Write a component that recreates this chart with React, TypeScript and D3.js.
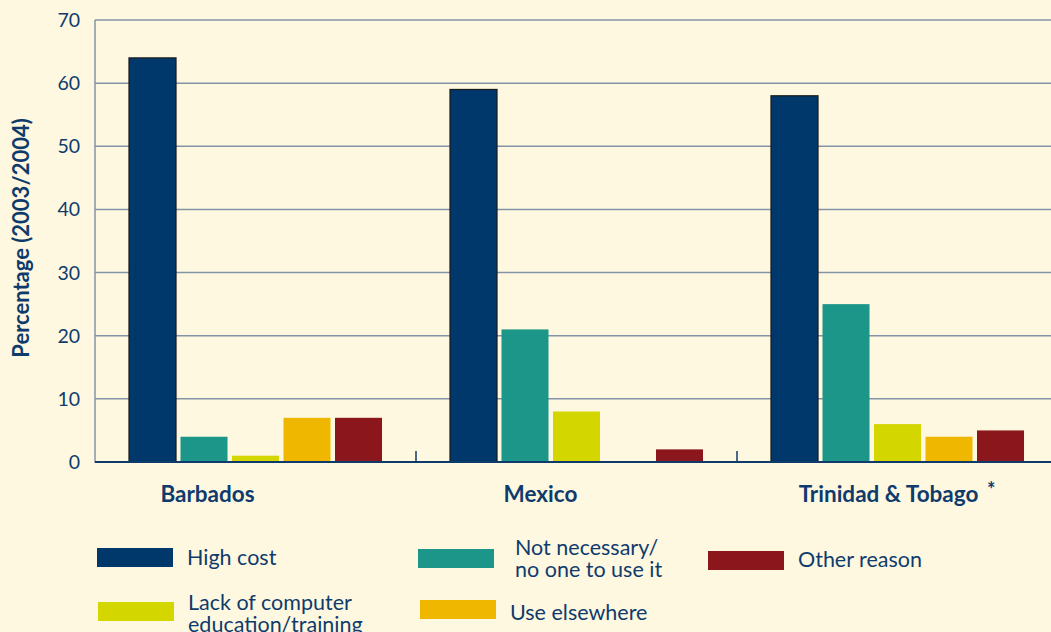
import React from "react";
import * as d3 from "d3";

const categories = ["Barbados", "Mexico", "Trinidad & Tobago"];
const seriesNames = [
  "High cost",
  "Not necessary/ no one to use it",
  "Lack of computer education/training",
  "Use elsewhere",
  "Other reason",
];
const highCost = [64, 59, 58];
const notNecessary = [4, 21, 25];
const lackEducation = [1, 8, 6];
const useElsewhere = [7, 0, 4];
const otherReason = [7, 2, 5];
const yTicks = [0, 10, 20, 30, 40, 50, 60, 70];

const seriesValues = [highCost, notNecessary, lackEducation, useElsewhere, otherReason];
const colors = ["#00386c", "#1b9688", "#d4d600", "#f0b700", "#8b161c"];

const W = 1051;
const H = 632;
const BG = "#fef8e1";
const TEXT = "#0f3b6c";
const GRID = "#8394a8";
const FONT = "Lato, 'Liberation Sans', sans-serif";

export default function App() {
  const left = 95;
  const top = 20;
  const bottom = 462;
  const groupW = 321;

  const x0 = d3.scaleBand<string>().domain(categories).range([left, left + groupW * 3]).padding(0);
  const x1 = d3
    .scaleBand<number>()
    .domain(d3.range(seriesNames.length))
    .range([0, groupW])
    .paddingInner(0.087)
    .paddingOuter(0.66);
  const y = d3.scaleLinear().domain([0, 70]).range([bottom, top]);

  const labelDx = [-48, -36, -9];

  const legendItems = [
    { s: 0, x: 97, y: 548, tx: 90, ty: 17, lines: ["High cost"] },
    { s: 1, x: 418, y: 549, tx: 97, ty: 6, lines: ["Not necessary/", "no one to use it"] },
    { s: 4, x: 708, y: 551, tx: 90, ty: 16, lines: ["Other reason"] },
    { s: 2, x: 98, y: 602, tx: 90, ty: 8, lines: ["Lack of computer", "education/training"] },
    { s: 3, x: 420, y: 600, tx: 90, ty: 20, lines: ["Use elsewhere"] },
  ];

  return (
    <div style={{ position: "fixed", left: 0, top: 0, width: W, height: H, background: BG }}>
      <svg width={W} height={H} style={{ display: "block" }}>
        <rect x={0} y={0} width={W} height={H} fill={BG} />
        {yTicks.map((t) => (
          <line
            key={"g" + t}
            x1={left}
            x2={W}
            y1={y(t)}
            y2={y(t)}
            stroke={t === 0 ? TEXT : GRID}
            strokeWidth={t === 0 ? 2 : 1.5}
          />
        ))}
        {yTicks.map((t) => (
          <text
            key={"t" + t}
            x={80}
            y={y(t) + 7}
            textAnchor="end"
            fontFamily={FONT}
            fontSize={19.5}
            fill={TEXT}
          >
            {t}
          </text>
        ))}
        <line x1={left} x2={left} y1={top} y2={bottom + 1} stroke={GRID} strokeWidth={1.5} />
        <text
          transform={`translate(29,${(top + bottom) / 2 - 3}) rotate(-90)`}
          textAnchor="middle"
          fontFamily={FONT}
          fontWeight="bold"
          fontSize={22}
          fill={TEXT}
        >
          Percentage (2003/2004)
        </text>
        {categories.map((c, ci) => (
          <g key={c} transform={`translate(${x0(c)},0)`}>
            {seriesValues.map((vals, si) =>
              vals[ci] > 0 ? (
                <rect
                  key={si}
                  x={x1(si)}
                  y={y(vals[ci])}
                  width={x1.bandwidth()}
                  height={bottom - y(vals[ci])}
                  fill={colors[si]}
                  stroke={si === 0 ? "#1a1a1a" : "none"}
                  strokeWidth={si === 0 ? 1.2 : 0}
                />
              ) : null
            )}
          </g>
        ))}
        <line x1={left} x2={W} y1={bottom} y2={bottom} stroke={TEXT} strokeWidth={2} />
        {categories.map((c, ci) =>
          ci > 0 ? (
            <line
              key={"b" + c}
              x1={x0(c)}
              x2={x0(c)}
              y1={bottom - 11}
              y2={bottom}
              stroke={TEXT}
              strokeWidth={1.5}
            />
          ) : null
        )}
        {categories.map((c, ci) => (
          <text
            key={"c" + c}
            x={(x0(c) as number) + x0.bandwidth() / 2 + labelDx[ci]}
            y={502}
            textAnchor="middle"
            fontFamily={FONT}
            fontWeight="bold"
            fontSize={22.5}
            fill={TEXT}
          >
            {c}
          </text>
        ))}
        <text x={987} y={497} fontFamily={FONT} fontWeight="bold" fontSize={20} fill={TEXT}>
          *
        </text>
        {legendItems.map((it) => (
          <g key={"l" + it.s}>
            <rect x={it.x} y={it.y} width={76} height={19} fill={colors[it.s]} />
            <text
              x={it.x + it.tx}
              y={it.y + it.ty}
              fontFamily={FONT}
              fontSize={21.5}
              fill={TEXT}
            >
              {it.lines.map((ln, li) => (
                <tspan key={li} x={it.x + it.tx} dy={li === 0 ? 0 : 22}>
                  {ln}
                </tspan>
              ))}
            </text>
          </g>
        ))}
      </svg>
    </div>
  );
}
